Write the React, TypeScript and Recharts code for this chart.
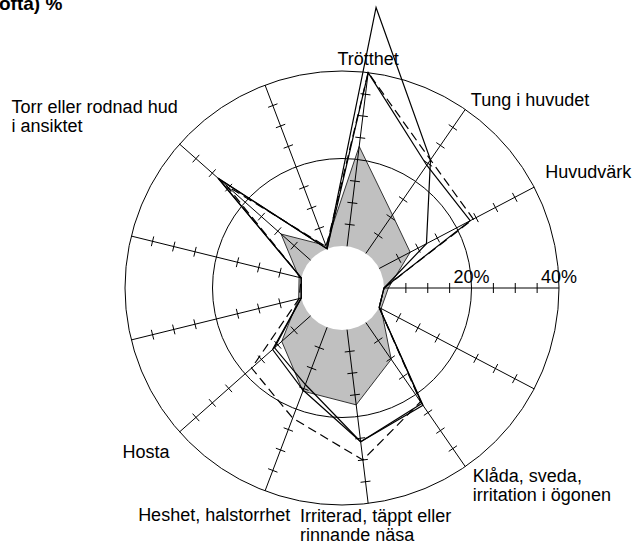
import React from 'react';
import { RadarChart, Radar, PolarGrid, PolarAngleAxis, PolarRadiusAxis } from 'recharts';

// Categories, counter-clockwise from the horizontal (3 o'clock) spoke
const categories: string[] = [
  '',
  'Huvudvärk',
  'Tung i huvudet',
  'Trötthet',
  '',
  'Torr eller rodnad hud\ni ansiktet',
  '',
  '',
  'Hosta',
  'Heshet, halstorrhet',
  'Irriterad, täppt eller\nrinnande näsa',
  'Klåda, sveda,\nirritation i ögonen',
  '',
];

// Series values (%)
const shaded: number[] = [1, 8, 10.7, 23, 0.8, 9, 0.5, 0.6, 8.8, 15.6, 17.3, 10.2, 0.5];
const seriesA: number[] = [0, 12.2, 26, 55, 0, 28.3, 0, 0, 11.6, 15.4, 25.8, 23, 0];
const seriesB: number[] = [0, 23.5, 24.5, 40, 0, 28, 0, 0, 11, 14, 25.8, 22.5, 0];
const seriesC: number[] = [0, 24.3, 26, 40, 0.5, 25.7, 0, 0.5, 18, 22.2, 30, 22, 0];

const radiusTicks: number[] = [5, 10, 15, 20, 25, 30, 35, 40];
const labelledTicks: number[] = [20, 40];

const MAX = 40;
const INNER = 42;
const OUTER = 217;
const CX = 342;
const CY = 288;
const N = categories.length;
const STEP = 360 / N;
// Recharts draws radar point i at startAngle + (i + 1) * step; start one step back
const START = -STEP;
const END = START + 360;
const FONT = '"Liberation Sans", Arial, Helvetica, sans-serif';

const rAt = (v: number) => INNER + ((OUTER - INNER) * v) / MAX;

const data = categories.map((label, i) => ({
  key: `k${i}`,
  label,
  shaded: shaded[i],
  a: seriesA[i],
  b: seriesB[i],
  c: seriesC[i],
  hole: 0,
}));

// label placement relative to the angle-axis tick point
const labelPlacement: Record<number, { anchor: string; dx: number; dy: number }> = {
  1: { anchor: 'start', dx: 4, dy: -5 },
  2: { anchor: 'start', dx: 1, dy: 3 },
  3: { anchor: 'middle', dx: -1, dy: 0 },
  5: { anchor: 'start', dx: -162, dy: -26 },
  8: { anchor: 'end', dx: -4, dy: 21 },
  9: { anchor: 'end', dx: 28, dy: 23 },
  10: { anchor: 'start', dx: -69, dy: 11 },
  11: { anchor: 'start', dx: 3, dy: 9 },
};

// pick the category from the tick's own position so labels sit on the radar spokes
const AngleTick = (props: any) => {
  const { x, y } = props;
  const cx = props.cx ?? CX;
  const cy = props.cy ?? CY;
  let ang = (Math.atan2(-(y - cy), x - cx) * 180) / Math.PI;
  if (ang < 0) ang += 360;
  const idx = Math.round(ang / STEP) % N;
  const text = categories[idx];
  const place = labelPlacement[idx];
  if (!text || !place) return <g />;
  const lines = text.split('\n');
  return (
    <text
      x={x + place.dx}
      y={y + place.dy}
      textAnchor={place.anchor as any}
      fontFamily={FONT}
      fontSize={18}
      fill="#000"
    >
      {lines.map((l, i) => (
        <tspan key={i} x={x + place.dx} dy={i === 0 ? 0 : 19}>
          {l}
        </tspan>
      ))}
    </text>
  );
};

const makeSpokeTick = (angleDeg: number, showLabels: boolean) => (props: any) => {
  const { x, y, payload } = props;
  const v = Number(payload.value);
  const rad = (angleDeg * Math.PI) / 180;
  const px = Math.sin(rad);
  const py = Math.cos(rad);
  const isLabelled = labelledTicks.includes(v);
  return (
    <g>
      {!isLabelled && (
        <line x1={x - 5 * px} y1={y - 5 * py} x2={x + 5 * px} y2={y + 5 * py} stroke="#000" strokeWidth={1} />
      )}
      {showLabels && isLabelled && (
        <text x={x} y={y - 5} textAnchor="middle" fontFamily={FONT} fontSize={18} fill="#000">
          {`${v}%`}
        </text>
      )}
    </g>
  );
};

const HoleShape = (props: any) => {
  const pts = props.points || [];
  if (!pts.length) return <g />;
  const cx = pts[0].cx ?? pts.reduce((s: number, p: any) => s + p.x, 0) / pts.length;
  const cy = pts[0].cy ?? pts.reduce((s: number, p: any) => s + p.y, 0) / pts.length;
  const r = pts[0].radius ?? Math.hypot(pts[0].x - cx, pts[0].y - cy);
  return <circle cx={cx} cy={cy} r={r} fill="#ffffff" stroke="none" />;
};

// one radius axis (tick marks) per spoke; the one at 0 degrees carries the % labels
const spokeAngles = categories.map((_, i) => i * STEP);

export default function App() {
  return (
    <div style={{ position: 'absolute', left: 0, top: 0, width: 633, height: 547, background: '#fff' }}>
      <RadarChart
        width={633}
        height={547}
        data={data}
        cx={CX}
        cy={CY}
        innerRadius={INNER}
        outerRadius={OUTER}
        startAngle={START}
        endAngle={END}
        margin={{ top: 0, right: 0, bottom: 0, left: 0 }}
      >
        <Radar
          dataKey="shaded"
          fill="#c0c0c0"
          fillOpacity={1}
          stroke="#333"
          strokeWidth={1}
          isAnimationActive={false}
          dot={false}
          zIndex={100}
        />
        <Radar dataKey="hole" shape={HoleShape} isAnimationActive={false} dot={false} zIndex={110} />
        <PolarGrid
          gridType="circle"
          polarRadius={[rAt(20), rAt(40)]}
          stroke="#000"
          strokeWidth={1}
          radialLines
          zIndex={120}
        />
        {spokeAngles.map((ang, i) => (
          <PolarRadiusAxis
            key={i}
            radiusAxisId={i}
            angle={ang}
            type="number"
            domain={[0, MAX]}
            ticks={radiusTicks}
            allowDataOverflow
            axisLine={false}
            tick={makeSpokeTick(ang, i === 0)}
            zIndex={130}
          />
        ))}
        <PolarAngleAxis
          dataKey="key"
          tick={AngleTick}
          tickLine={false}
          axisLine={false}
          tickSize={8}
        />
        <Radar dataKey="b" fill="none" fillOpacity={0} stroke="#000" strokeWidth={1.2} isAnimationActive={false} dot={false} zIndex={400} />
        <Radar dataKey="c" fill="none" fillOpacity={0} stroke="#000" strokeWidth={1.2} strokeDasharray="9 5" isAnimationActive={false} dot={false} zIndex={400} />
        <Radar dataKey="a" fill="none" fillOpacity={0} stroke="#000" strokeWidth={1.2} isAnimationActive={false} dot={false} zIndex={400} />
      </RadarChart>
      <svg style={{ position: 'absolute', left: 0, top: 0 }} width={120} height={20}>
        <text x={-1} y={10} fontFamily={FONT} fontWeight="bold" fontSize={19} fill="#000">
          ofta) %
        </text>
      </svg>
    </div>
  );
}
